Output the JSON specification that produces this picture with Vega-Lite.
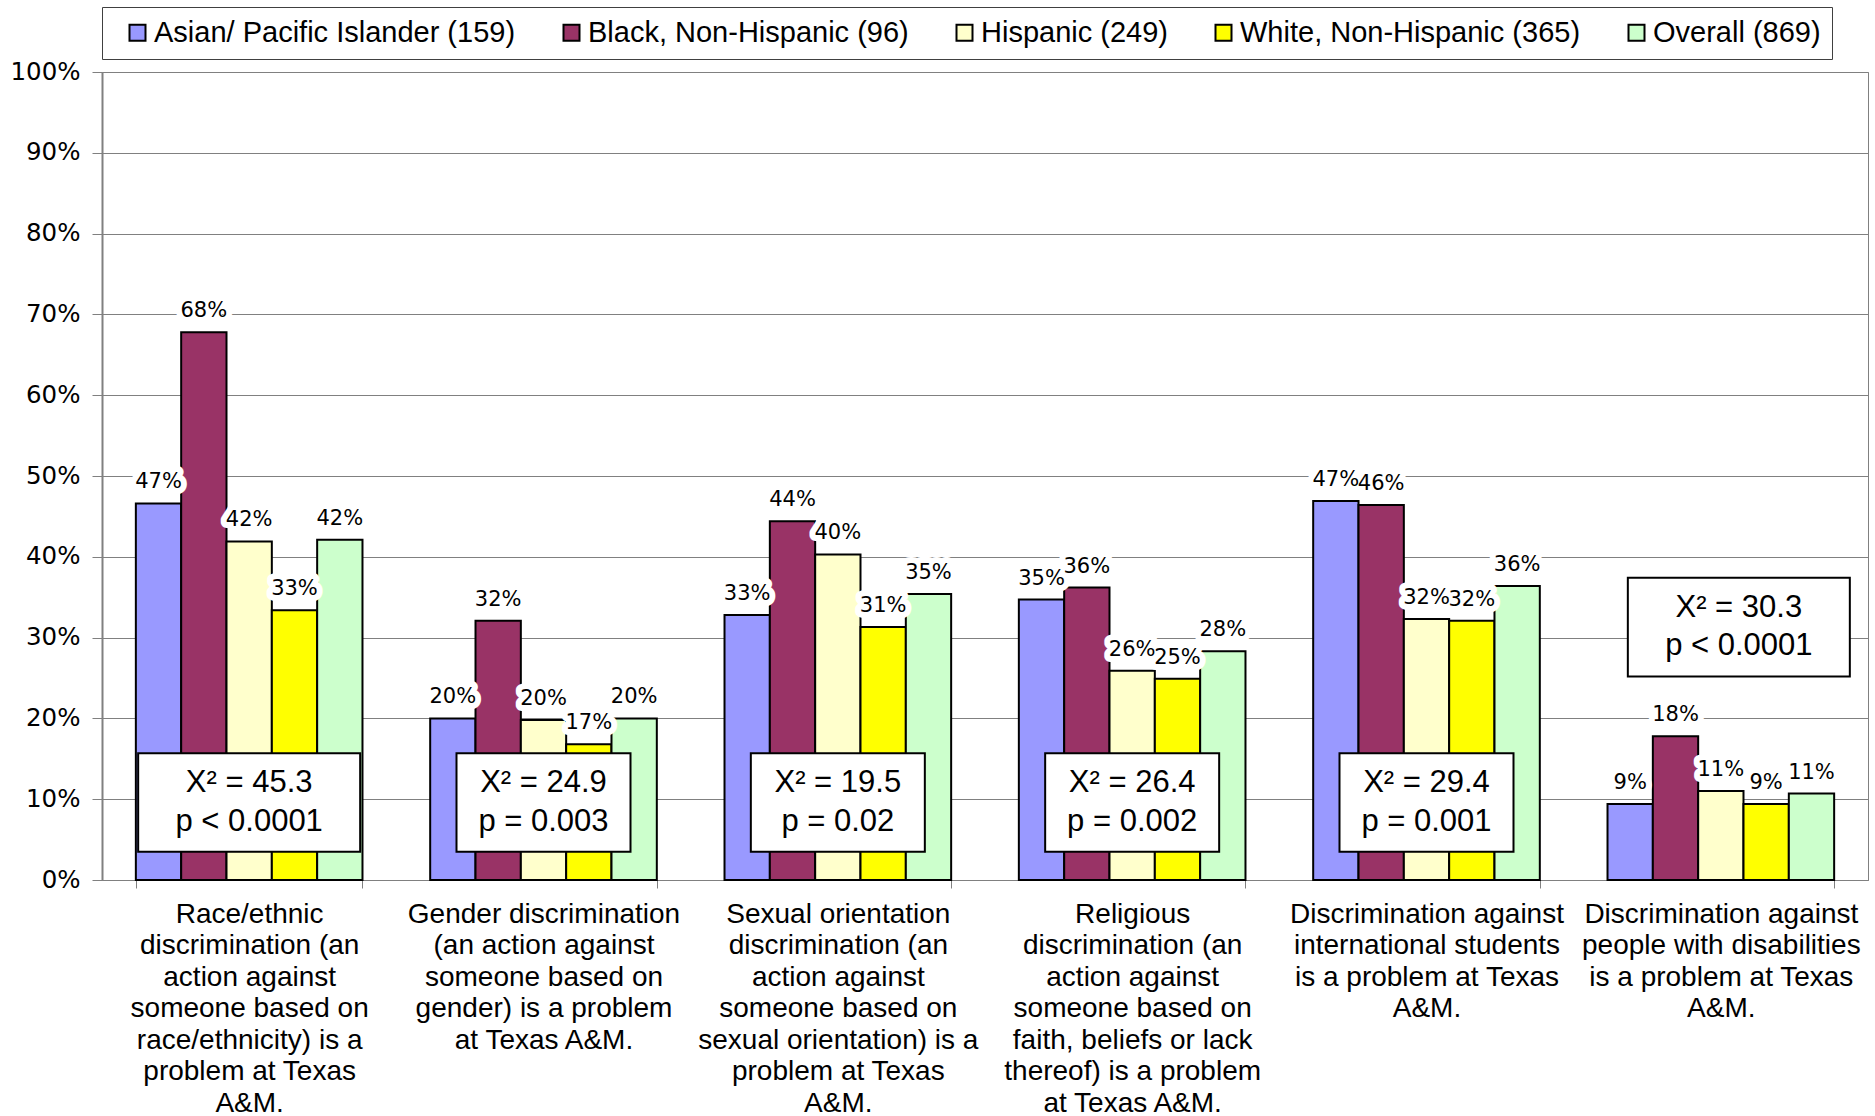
{
  "$schema": "https://vega.github.io/schema/vega-lite/v6.json",
  "width": 1766,
  "height": 808,
  "autosize": {"type": "none"},
  "padding": {"left": 102, "top": 72, "right": 7, "bottom": 236},
  "background": "white",
  "config": {"view": {"stroke": "#808080", "strokeWidth": 1}, "font": "Liberation Sans"},
  "datasets": {
    "bars": [
      {"category": "Race/ethnic|discrimination (an|action against|someone based on|race/ethnicity) is a|problem at Texas|A&M.", "group": "Asian/ Pacific Islander (159)", "value": 0.466},
      {"category": "Race/ethnic|discrimination (an|action against|someone based on|race/ethnicity) is a|problem at Texas|A&M.", "group": "Black, Non-Hispanic (96)", "value": 0.678},
      {"category": "Race/ethnic|discrimination (an|action against|someone based on|race/ethnicity) is a|problem at Texas|A&M.", "group": "Hispanic (249)", "value": 0.419},
      {"category": "Race/ethnic|discrimination (an|action against|someone based on|race/ethnicity) is a|problem at Texas|A&M.", "group": "White, Non-Hispanic (365)", "value": 0.334},
      {"category": "Race/ethnic|discrimination (an|action against|someone based on|race/ethnicity) is a|problem at Texas|A&M.", "group": "Overall (869)", "value": 0.421},
      {"category": "Gender discrimination|(an action against|someone based on|gender) is a problem|at Texas A&M.", "group": "Asian/ Pacific Islander (159)", "value": 0.200},
      {"category": "Gender discrimination|(an action against|someone based on|gender) is a problem|at Texas A&M.", "group": "Black, Non-Hispanic (96)", "value": 0.321},
      {"category": "Gender discrimination|(an action against|someone based on|gender) is a problem|at Texas A&M.", "group": "Hispanic (249)", "value": 0.198},
      {"category": "Gender discrimination|(an action against|someone based on|gender) is a problem|at Texas A&M.", "group": "White, Non-Hispanic (365)", "value": 0.168},
      {"category": "Gender discrimination|(an action against|someone based on|gender) is a problem|at Texas A&M.", "group": "Overall (869)", "value": 0.200},
      {"category": "Sexual orientation|discrimination (an|action against|someone based on|sexual orientation) is a|problem at Texas|A&M.", "group": "Asian/ Pacific Islander (159)", "value": 0.328},
      {"category": "Sexual orientation|discrimination (an|action against|someone based on|sexual orientation) is a|problem at Texas|A&M.", "group": "Black, Non-Hispanic (96)", "value": 0.444},
      {"category": "Sexual orientation|discrimination (an|action against|someone based on|sexual orientation) is a|problem at Texas|A&M.", "group": "Hispanic (249)", "value": 0.403},
      {"category": "Sexual orientation|discrimination (an|action against|someone based on|sexual orientation) is a|problem at Texas|A&M.", "group": "White, Non-Hispanic (365)", "value": 0.313},
      {"category": "Sexual orientation|discrimination (an|action against|someone based on|sexual orientation) is a|problem at Texas|A&M.", "group": "Overall (869)", "value": 0.354},
      {"category": "Religious|discrimination (an|action against|someone based on|faith, beliefs or lack|thereof) is a problem|at Texas A&M.", "group": "Asian/ Pacific Islander (159)", "value": 0.347},
      {"category": "Religious|discrimination (an|action against|someone based on|faith, beliefs or lack|thereof) is a problem|at Texas A&M.", "group": "Black, Non-Hispanic (96)", "value": 0.362},
      {"category": "Religious|discrimination (an|action against|someone based on|faith, beliefs or lack|thereof) is a problem|at Texas A&M.", "group": "Hispanic (249)", "value": 0.259},
      {"category": "Religious|discrimination (an|action against|someone based on|faith, beliefs or lack|thereof) is a problem|at Texas A&M.", "group": "White, Non-Hispanic (365)", "value": 0.249},
      {"category": "Religious|discrimination (an|action against|someone based on|faith, beliefs or lack|thereof) is a problem|at Texas A&M.", "group": "Overall (869)", "value": 0.283},
      {"category": "Discrimination against|international students|is a problem at Texas|A&M.", "group": "Asian/ Pacific Islander (159)", "value": 0.469},
      {"category": "Discrimination against|international students|is a problem at Texas|A&M.", "group": "Black, Non-Hispanic (96)", "value": 0.464},
      {"category": "Discrimination against|international students|is a problem at Texas|A&M.", "group": "Hispanic (249)", "value": 0.323},
      {"category": "Discrimination against|international students|is a problem at Texas|A&M.", "group": "White, Non-Hispanic (365)", "value": 0.321},
      {"category": "Discrimination against|international students|is a problem at Texas|A&M.", "group": "Overall (869)", "value": 0.364},
      {"category": "Discrimination against|people with disabilities|is a problem at Texas|A&M.", "group": "Asian/ Pacific Islander (159)", "value": 0.094},
      {"category": "Discrimination against|people with disabilities|is a problem at Texas|A&M.", "group": "Black, Non-Hispanic (96)", "value": 0.178},
      {"category": "Discrimination against|people with disabilities|is a problem at Texas|A&M.", "group": "Hispanic (249)", "value": 0.110},
      {"category": "Discrimination against|people with disabilities|is a problem at Texas|A&M.", "group": "White, Non-Hispanic (365)", "value": 0.094},
      {"category": "Discrimination against|people with disabilities|is a problem at Texas|A&M.", "group": "Overall (869)", "value": 0.107}
    ],
    "stats": [
      {"category": "Race/ethnic|discrimination (an|action against|someone based on|race/ethnicity) is a|problem at Texas|A&M.", "line1": "X² = 45.3", "line2": "p < 0.0001"},
      {"category": "Gender discrimination|(an action against|someone based on|gender) is a problem|at Texas A&M.", "line1": "X² = 24.9", "line2": "p = 0.003"},
      {"category": "Sexual orientation|discrimination (an|action against|someone based on|sexual orientation) is a|problem at Texas|A&M.", "line1": "X² = 19.5", "line2": "p = 0.02"},
      {"category": "Religious|discrimination (an|action against|someone based on|faith, beliefs or lack|thereof) is a problem|at Texas A&M.", "line1": "X² = 26.4", "line2": "p = 0.002"},
      {"category": "Discrimination against|international students|is a problem at Texas|A&M.", "line1": "X² = 29.4", "line2": "p = 0.001"},
      {"category": "Discrimination against|people with disabilities|is a problem at Texas|A&M.", "line1": "X² = 30.3", "line2": "p < 0.0001"}
    ]
  },
  "encoding": {
    "x": {
      "field": "category",
      "type": "nominal",
      "sort": [
        "Race/ethnic|discrimination (an|action against|someone based on|race/ethnicity) is a|problem at Texas|A&M.",
        "Gender discrimination|(an action against|someone based on|gender) is a problem|at Texas A&M.",
        "Sexual orientation|discrimination (an|action against|someone based on|sexual orientation) is a|problem at Texas|A&M.",
        "Religious|discrimination (an|action against|someone based on|faith, beliefs or lack|thereof) is a problem|at Texas A&M.",
        "Discrimination against|international students|is a problem at Texas|A&M.",
        "Discrimination against|people with disabilities|is a problem at Texas|A&M."
      ],
      "scale": {"paddingInner": 0.23, "paddingOuter": 0.115},
      "axis": {
        "title": null,
        "labelExpr": "split(datum.label, '|')",
        "labelAngle": 0,
        "labelFont": "Liberation Sans",
        "labelFontSize": 28,
        "labelColor": "black",
        "labelLineHeight": 31.5,
        "labelLimit": 400,
        "labelPadding": 12,
        "labelOverlap": false,
        "labelBaseline": "top",
        "tickBand": "extent",
        "tickSize": 8,
        "tickColor": "#808080",
        "domainColor": "#808080",
        "domainWidth": 1
      }
    }
  },
  "layer": [
    {
      "data": {"name": "bars"},
      "mark": {"type": "bar", "stroke": "black", "strokeWidth": 2},
      "encoding": {
        "xOffset": {"field": "group", "type": "nominal", "sort": ["Asian/ Pacific Islander (159)", "Black, Non-Hispanic (96)", "Hispanic (249)", "White, Non-Hispanic (365)", "Overall (869)"], "scale": {"paddingInner": 0, "paddingOuter": 0}},
        "y": {
          "field": "value",
          "type": "quantitative",
          "scale": {"domain": [0, 1]},
          "axis": {
            "title": null,
            "format": ".0%",
            "values": [0, 0.1, 0.2, 0.3, 0.4, 0.5, 0.6, 0.7, 0.8, 0.9, 1],
            "grid": true,
            "gridColor": "#808080",
            "gridWidth": 1,
            "labelFont": "DejaVu Sans",
            "labelFontSize": 24.5,
            "labelColor": "black",
            "labelPadding": 12,
            "tickSize": 10,
            "tickColor": "#808080",
            "domainColor": "#808080",
            "domainWidth": 2
          }
        },
        "color": {
          "field": "group",
          "type": "nominal",
          "sort": ["Asian/ Pacific Islander (159)", "Black, Non-Hispanic (96)", "Hispanic (249)", "White, Non-Hispanic (365)", "Overall (869)"],
          "scale": {
            "domain": ["Asian/ Pacific Islander (159)", "Black, Non-Hispanic (96)", "Hispanic (249)", "White, Non-Hispanic (365)", "Overall (869)"],
            "range": ["#9999FF", "#993366", "#FFFFCC", "#FFFF00", "#CCFFCC"]
          },
          "legend": {
            "orient": "none",
            "legendX": 0,
            "legendY": -65,
            "direction": "horizontal",
            "columns": 5,
            "title": null,
            "labelFont": "Liberation Sans",
            "labelFontSize": 29,
            "labelColor": "black",
            "labelLimit": 600,
            "labelOffset": 2,
            "symbolType": "square",
            "symbolSize": 256,
            "symbolStrokeColor": "black",
            "symbolStrokeWidth": 2,
            "symbolOffset": 10,
            "columnPadding": 31,
            "padding": 11,
            "strokeColor": "#404040",
            "fillColor": "white"
          }
        }
      }
    },
    {
      "data": {"name": "bars"},
      "mark": {"type": "text", "font": "DejaVu Sans", "fontSize": 21, "baseline": "alphabetic", "dy": -15, "fill": "white", "stroke": "white", "strokeWidth": 12, "strokeJoin": "round"},
      "encoding": {
        "xOffset": {"field": "group", "type": "nominal", "sort": ["Asian/ Pacific Islander (159)", "Black, Non-Hispanic (96)", "Hispanic (249)", "White, Non-Hispanic (365)", "Overall (869)"]},
        "y": {"field": "value", "type": "quantitative"},
        "text": {"field": "value", "type": "quantitative", "format": ".0%"}
      }
    },
    {
      "data": {"name": "bars"},
      "mark": {"type": "text", "font": "DejaVu Sans", "fontSize": 21, "baseline": "alphabetic", "dy": -15, "fill": "black"},
      "encoding": {
        "xOffset": {"field": "group", "type": "nominal", "sort": ["Asian/ Pacific Islander (159)", "Black, Non-Hispanic (96)", "Hispanic (249)", "White, Non-Hispanic (365)", "Overall (869)"]},
        "y": {"field": "value", "type": "quantitative"},
        "text": {"field": "value", "type": "quantitative", "format": ".0%"}
      }
    },
    {
      "data": {"name": "stats"},
      "transform": [{"filter": "indexof(datum.category, 'Race/ethnic') >= 0"}],
      "mark": {"type": "bar", "width": 222, "fill": "white", "stroke": "black", "strokeWidth": 2},
      "encoding": {"y": {"datum": 0.157, "type": "quantitative"}, "y2": {"datum": 0.035}}
    },
    {
      "data": {"name": "stats"},
      "transform": [{"filter": "indexof(datum.category, 'Race/ethnic') < 0 && indexof(datum.category, 'disabilities') < 0"}],
      "mark": {"type": "bar", "width": 174, "fill": "white", "stroke": "black", "strokeWidth": 2},
      "encoding": {"y": {"datum": 0.157, "type": "quantitative"}, "y2": {"datum": 0.035}}
    },
    {
      "data": {"name": "stats"},
      "transform": [{"filter": "indexof(datum.category, 'disabilities') >= 0"}],
      "mark": {"type": "bar", "width": 222, "xOffset": 18, "fill": "white", "stroke": "black", "strokeWidth": 2},
      "encoding": {"y": {"datum": 0.374, "type": "quantitative"}, "y2": {"datum": 0.252}}
    },
    {
      "data": {"name": "stats"},
      "transform": [{"filter": "indexof(datum.category, 'disabilities') < 0"}],
      "mark": {"type": "text", "font": "Liberation Sans", "fontSize": 31, "baseline": "middle", "fill": "black"},
      "encoding": {"y": {"datum": 0.12, "type": "quantitative"}, "text": {"field": "line1"}}
    },
    {
      "data": {"name": "stats"},
      "transform": [{"filter": "indexof(datum.category, 'disabilities') < 0"}],
      "mark": {"type": "text", "font": "Liberation Sans", "fontSize": 31, "baseline": "middle", "fill": "black"},
      "encoding": {"y": {"datum": 0.072, "type": "quantitative"}, "text": {"field": "line2"}}
    },
    {
      "data": {"name": "stats"},
      "transform": [{"filter": "indexof(datum.category, 'disabilities') >= 0"}],
      "mark": {"type": "text", "font": "Liberation Sans", "fontSize": 31, "baseline": "middle", "fill": "black", "dx": 18},
      "encoding": {"y": {"datum": 0.337, "type": "quantitative"}, "text": {"field": "line1"}}
    },
    {
      "data": {"name": "stats"},
      "transform": [{"filter": "indexof(datum.category, 'disabilities') >= 0"}],
      "mark": {"type": "text", "font": "Liberation Sans", "fontSize": 31, "baseline": "middle", "fill": "black", "dx": 18},
      "encoding": {"y": {"datum": 0.290, "type": "quantitative"}, "text": {"field": "line2"}}
    }
  ]
}
